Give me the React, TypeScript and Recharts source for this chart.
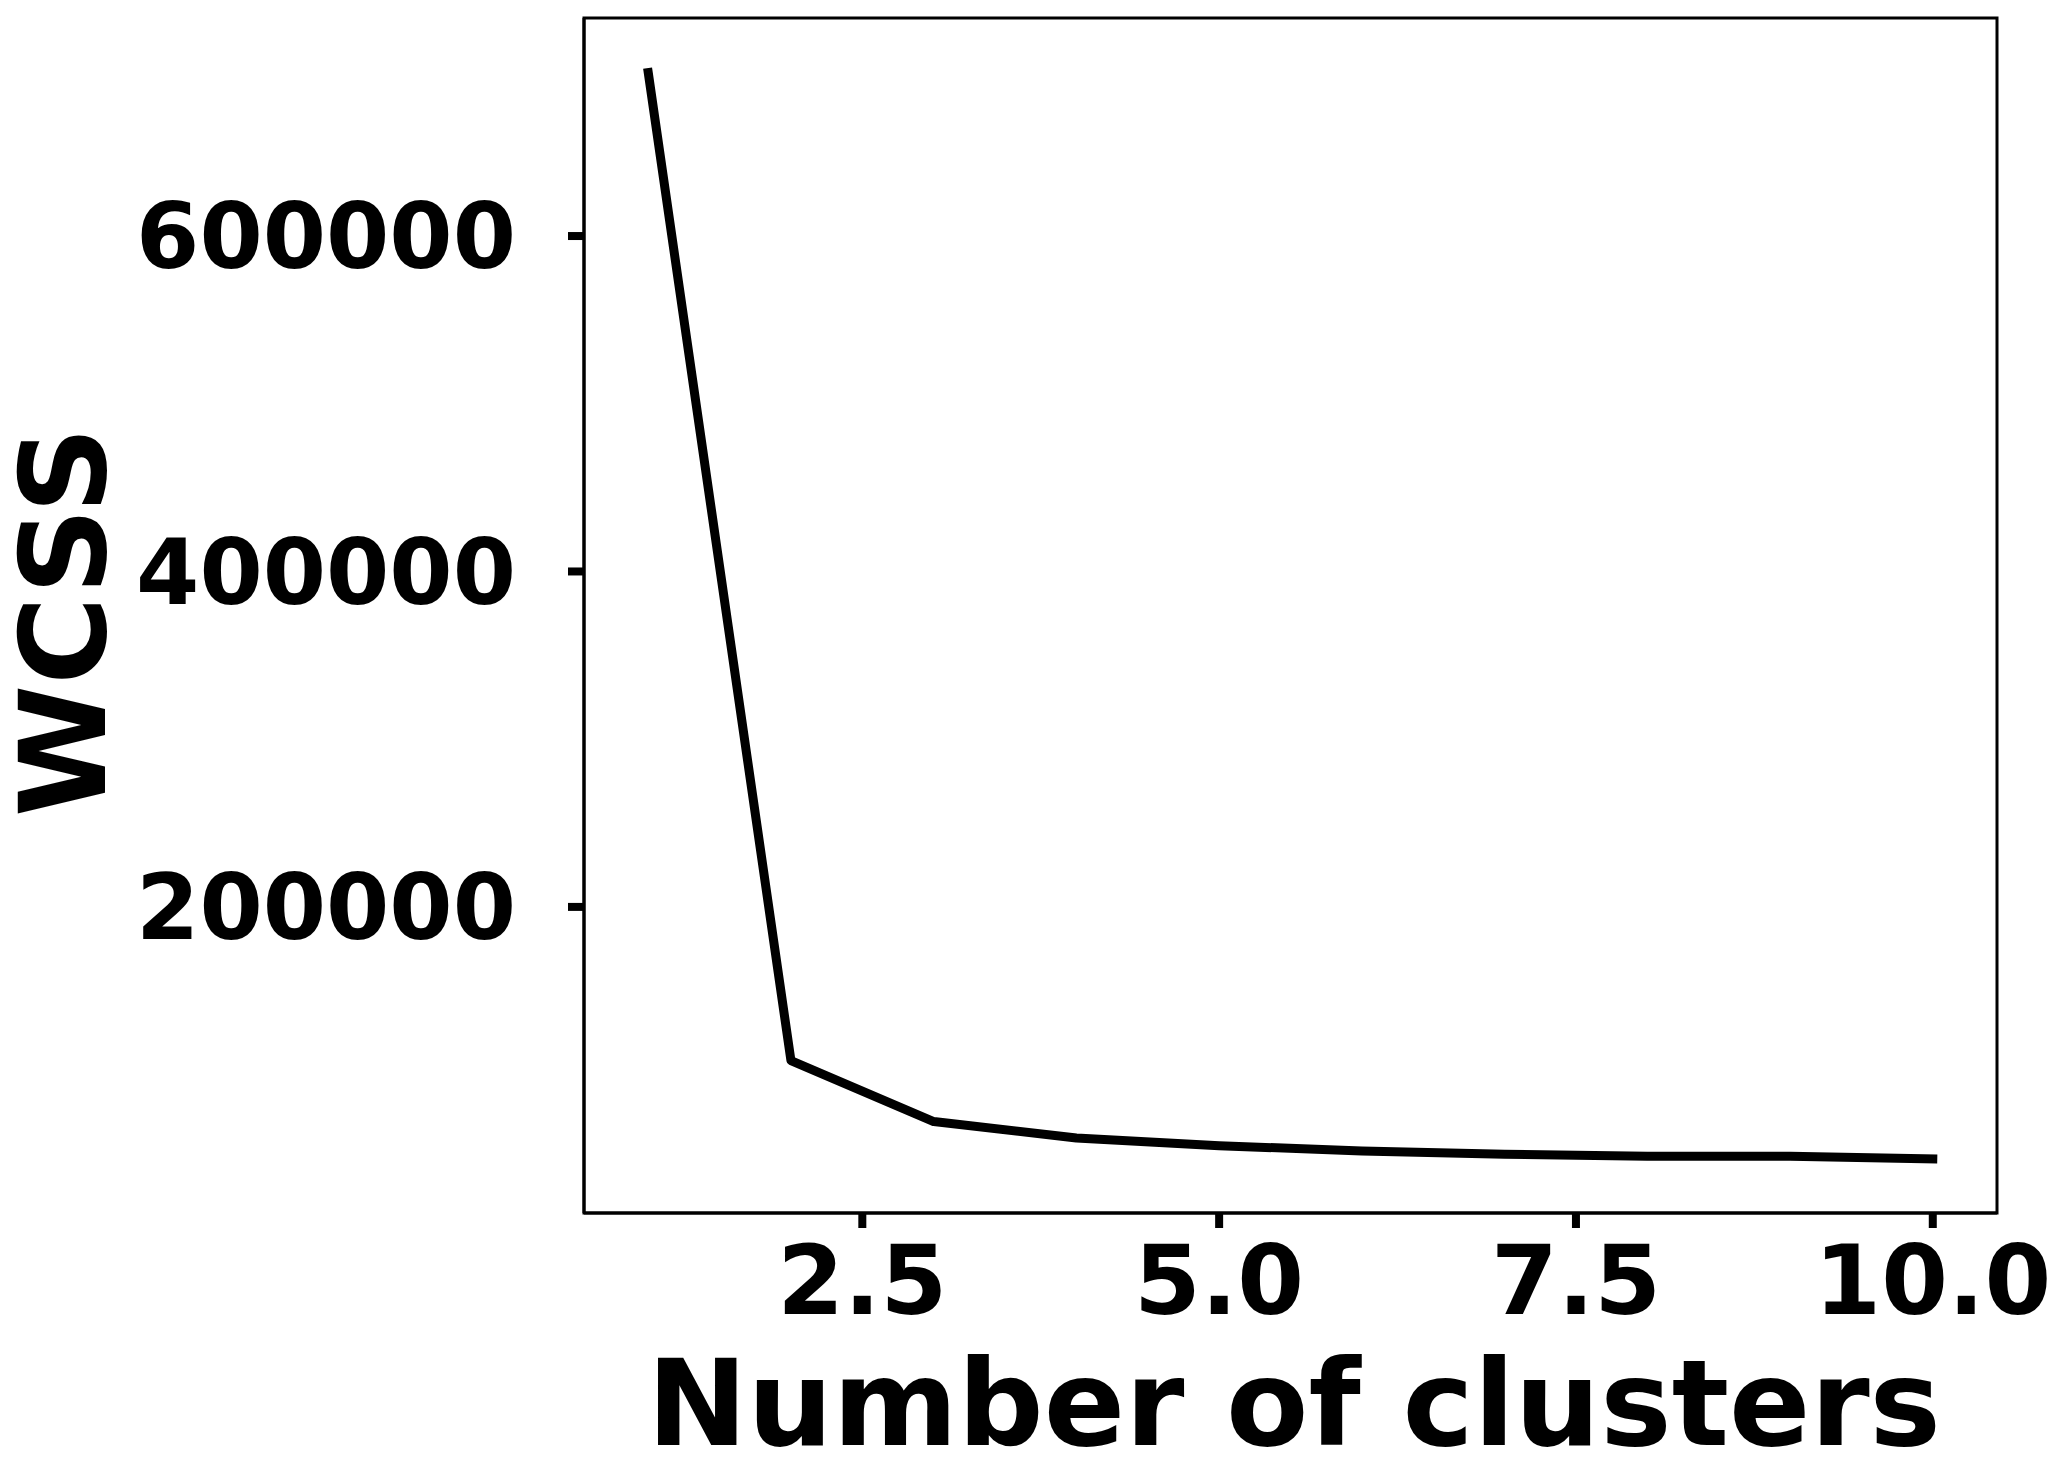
import React from 'react';
import { LineChart, Line, XAxis, YAxis, ReferenceArea, Label } from 'recharts';

const clusters = [1, 2, 3, 4, 5, 6, 7, 8, 9, 10];
const wcss = [697500, 108300, 72000, 62200, 57600, 54500, 52500, 51300, 51300, 49800];
const xTicks = [2.5, 5.0, 7.5, 10.0];
const yTicks = [200000, 400000, 600000];
const xDomain = [0.55, 10.45];
const yDomain = [17500, 730000];

const data = clusters.map((k, i) => ({ k, wcss: wcss[i] }));

const FONT = '"DejaVu Sans", sans-serif';

export default function App() {
  return (
    <LineChart width={2051} height={1448} data={data} margin={{ top: 10, right: 62, bottom: 0, left: 0 }}>
      <XAxis
        dataKey="k"
        type="number"
        domain={xDomain}
        ticks={xTicks}
        allowDataOverflow
        tickFormatter={(v: number) => v.toFixed(1)}
        axisLine={{ stroke: '#000', strokeWidth: 3 }}
        tickLine={{ stroke: '#000', strokeWidth: 8 }}
        tickSize={15}
        tickMargin={18}
        tick={{ fill: '#000', fontSize: 96, fontWeight: 'bold', fontFamily: FONT }}
        height={243}
      >
        <Label
          content={() => (
            <text x={1286} y={1437} textAnchor="middle" fill="#000" fontSize={120} fontWeight="bold" fontFamily={FONT}>
              Number of clusters
            </text>
          )}
        />
      </XAxis>
      <YAxis
        type="number"
        domain={yDomain}
        ticks={yTicks}
        allowDataOverflow
        axisLine={{ stroke: '#000', strokeWidth: 3 }}
        tickLine={{ stroke: '#000', strokeWidth: 8 }}
        tickSize={16}
        tickMargin={52}
        tick={{ fill: '#000', fontSize: 91, fontWeight: 'bold', fontFamily: FONT }}
        width={576}
      >
        <Label
          content={() => (
            <text x={97} y={614} transform="rotate(-90, 97, 614)" textAnchor="middle" fill="#000" fontSize={120} fontWeight="bold" fontFamily={FONT}>
              WCSS
            </text>
          )}
        />
      </YAxis>
      <ReferenceArea x1={xDomain[0]} x2={xDomain[1]} y1={yDomain[0]} y2={yDomain[1]} fill="none" stroke="#000" strokeWidth={3} ifOverflow="visible" />
      <Line
        type="linear"
        dataKey="wcss"
        stroke="#000"
        strokeWidth={9}
        dot={false}
        strokeLinecap="square"
        strokeLinejoin="round"
        isAnimationActive={false}
      />
    </LineChart>
  );
}
